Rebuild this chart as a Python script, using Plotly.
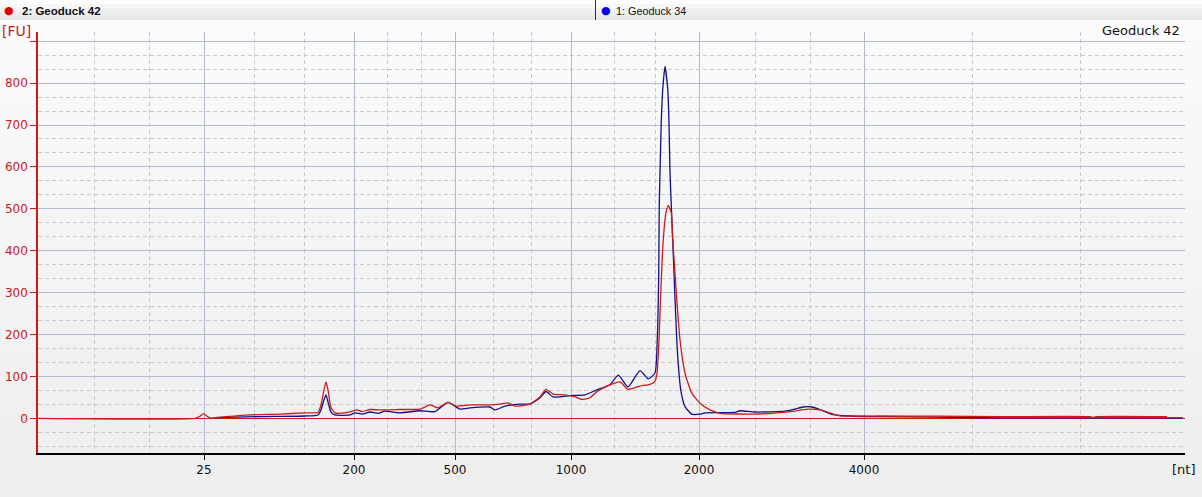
import plotly.graph_objects as go

# ---------------- data (migration time [s] vs fluorescence [FU]) ----------------
red_name = "2: Geoduck 42"
red_t = [18.0, 24.28, 24.48, 24.62, 24.76, 24.92, 25.2, 26.48, 27.68, 28.68, 29.2, 29.32, 29.44, 29.52,
         29.6, 29.72, 29.88, 30.28, 30.56, 30.76, 30.96, 31.28, 31.68, 32.48, 33.28, 33.68, 34.0, 34.4,
         34.72, 35.28, 36.08, 36.48, 36.8, 37.08, 37.68, 38.08, 38.32, 38.6, 39.08, 39.48, 39.76, 40.08,
         40.36, 40.88, 41.28, 41.6, 42.08, 42.48, 42.68, 42.76, 42.84, 42.91, 43.01, 43.12, 43.21, 43.33,
         43.39, 43.48, 43.57, 43.68, 43.88, 44.15, 44.48, 44.88, 45.28, 46.68, 48.08, 48.8, 49.28, 50.08,
         51.68, 53.88, 56.48, 60.08, 60.2, 60.32, 63.16]
red_fu = [0, 0, 5, 11, 5, 0.5, 2, 8, 10, 13, 14, 32, 68, 87,
          68, 25, 13, 13, 17, 20, 16, 21, 20, 21, 22, 32, 25, 38,
          29, 32, 32, 34, 37, 29, 34, 51, 69, 58, 56, 51, 45, 49,
          64, 80, 87, 69, 77, 81, 89, 108, 187, 299, 426, 491, 508, 491,
          426, 347, 267, 187, 108, 60, 36, 20, 12, 10, 16, 22, 20, 6,
          5.5, 5, 4, 4, 2, 4, 4]

blue_name = "1: Geoduck 34"
blue_t = [25.08, 26.88, 28.68, 29.2, 29.32, 29.44, 29.52, 29.6, 29.72, 29.88, 30.48, 30.68, 30.96, 31.28,
          31.6, 31.88, 32.48, 33.28, 33.88, 34.4, 34.88, 35.28, 36.08, 36.28, 36.68, 37.28, 37.68, 38.08,
          38.32, 38.6, 39.28, 39.88, 40.36, 40.88, 41.21, 41.6, 42.08, 42.41, 42.68, 42.77, 42.83, 42.85,
          42.88, 42.93, 42.99, 43.08, 43.19, 43.24, 43.28, 43.36, 43.44, 43.52, 43.59, 43.71, 43.88, 44.15,
          44.48, 44.68, 45.88, 46.08, 46.68, 47.88, 48.28, 48.6, 48.96, 49.28, 49.8, 50.48, 51.48, 53.88,
          56.48, 63.8]
blue_fu = [1.5, 4, 5.5, 8, 20, 44, 56, 39, 15, 8, 8, 13, 10, 15,
           12, 17, 13, 18, 16, 38, 22, 25, 27, 20, 29, 34, 34, 49,
           64, 51, 54, 56, 68, 80, 103, 75, 114, 94, 108, 187, 347, 506,
           586, 706, 785, 840, 785, 706, 586, 467, 347, 228, 147, 68, 28, 10,
           10, 13, 14, 18, 15, 17, 22, 27, 27, 21, 9, 5.5, 4, 3,
           1, 1]

# ladder positions (time) and their size labels
ladder_t = [24.64, 30.64, 34.68, 39.32, 44.44, 51.04]
ladder_nt = ["25", "200", "500", "1000", "2000", "4000"]
minor_t = [20.24, 22.44, 26.64, 28.64, 31.96, 33.32, 36.2, 37.72, 41.04, 42.68,
           46.68, 48.88, 55.36, 59.68, 63.88]
fu_ticks = [0, 100, 200, 300, 400, 500, 600, 700, 800, 900]
fu_labels = ["0", "100", "200", "300", "400", "500", "600", "700", "800", ""]
sample_title = "Geoduck 42"

# ---------------- layout constants ----------------
W, H = 1202, 497
L, R, T, B = 38, 1185, 32, 453
RED = "#cc1a1a"
BLUE = "#10108c"
GRID = "#b3bbca"
DGRID = "#c9c9c9"
FONT = "DejaVu Sans"


def px(x):
    return (x - L) / (R - L)


def py(y):
    return (B - y) / (B - T)


fig = go.Figure()
fig.add_trace(go.Scatter(x=blue_t, y=blue_fu, mode="lines", name=blue_name,
                         line=dict(color=BLUE, width=1.3, shape="spline", smoothing=0.5),
                         showlegend=False))
fig.add_trace(go.Scatter(x=red_t, y=red_fu, mode="lines", name=red_name,
                         line=dict(color=RED, width=1.3, shape="spline", smoothing=0.5),
                         showlegend=False))

# background gradient (page) and header bar
shapes = []
n = 24
for i in range(n):
    y0 = H * i / n
    y1 = H * (i + 1) / n
    c = int(252 - (252 - 238) * i / (n - 1))
    shapes.append(dict(type="rect", xref="paper", yref="paper", layer="below",
                       x0=px(0), x1=px(W), y0=py(y1), y1=py(y0),
                       fillcolor=f"rgb({c},{c},{c})", line=dict(width=0)))
hb = 5
for i in range(hb):
    y0 = 20 * i / hb
    y1 = 20 * (i + 1) / hb
    c = int(253 - (253 - 232) * i / (hb - 1))
    shapes.append(dict(type="rect", xref="paper", yref="paper", layer="below",
                       x0=px(0), x1=px(W), y0=py(y1), y1=py(y0),
                       fillcolor=f"rgb({c},{c},{c})", line=dict(width=0)))
shapes.append(dict(type="line", xref="paper", yref="paper", x0=px(595.5), x1=px(595.5),
                   y0=py(0), y1=py(20), line=dict(color="#303030", width=1)))

annotations = [
    dict(text="●", x=px(9), y=py(10), xref="paper", yref="paper", showarrow=False,
         font=dict(color="#e00000", size=11, family=FONT), xanchor="center", yanchor="middle"),
    dict(text="<b>" + red_name + "</b>", x=px(20), y=py(11), xref="paper", yref="paper",
         showarrow=False, font=dict(color="#111111", size=11.5, family="Liberation Sans"),
         xanchor="left", yanchor="middle"),
    dict(text="●", x=px(606), y=py(10), xref="paper", yref="paper", showarrow=False,
         font=dict(color="#0000e0", size=11, family=FONT), xanchor="center", yanchor="middle"),
    dict(text=blue_name, x=px(614), y=py(11), xref="paper", yref="paper",
         showarrow=False, font=dict(color="#111111", size=10.8, family="Liberation Sans"),
         xanchor="left", yanchor="middle"),
    dict(text="[FU]", x=px(0), y=py(31), xref="paper", yref="paper", showarrow=False,
         font=dict(color=RED, size=14, family=FONT), xanchor="left", yanchor="middle"),
    dict(text="[nt]", x=px(1197), y=py(470), xref="paper", yref="paper", showarrow=False,
         font=dict(color="#111111", size=13, family=FONT), xanchor="right", yanchor="middle"),
    dict(text=sample_title, x=px(1182), y=py(31), xref="paper", yref="paper", showarrow=False,
         font=dict(color="#111111", size=13, family=FONT), xanchor="right", yanchor="middle"),
]

fig.update_layout(
    width=W, height=H,
    margin=dict(l=L, r=W - R, t=T, b=H - B, pad=0, autoexpand=False),
    paper_bgcolor="#f2f2f2", plot_bgcolor="rgba(0,0,0,0)",
    shapes=shapes, annotations=annotations, showlegend=False,
    xaxis=dict(range=[18, 63.88], tickmode="array", tickvals=ladder_t, ticktext=ladder_nt,
               automargin=False,
               ticks="outside", ticklen=5, tickcolor="#000000", tickwidth=1,
               showline=True, linecolor="#000000", linewidth=1.5,
               showgrid=True, gridcolor=GRID, gridwidth=1, zeroline=False,
               tickfont=dict(family=FONT, size=12, color="#111111"),
               minor=dict(tickmode="array", tickvals=minor_t, showgrid=True,
                          gridcolor=DGRID, griddash="4px,3px", gridwidth=1, ticks="")),
    yaxis=dict(range=[-82.8, 922], tickmode="array", tickvals=fu_ticks, ticktext=fu_labels,
               automargin=False,
               ticks="outside", ticklen=6, tickcolor=RED, tickwidth=1,
               showline=True, linecolor=RED, linewidth=1.5,
               showgrid=True, gridcolor=GRID, gridwidth=1,
               zeroline=True, zerolinecolor=RED, zerolinewidth=1.2,
               tickfont=dict(family=FONT, size=12, color=RED),
               minor=dict(tickmode="linear", tick0=0, dtick=100 / 3, showgrid=True,
                          gridcolor=DGRID, griddash="4px,3px", gridwidth=1, ticks="")),
)

fig.write_html("out.html", config={"displayModeBar": False},
               post_script="document.body.style.margin='0';document.body.style.overflow='hidden';")
